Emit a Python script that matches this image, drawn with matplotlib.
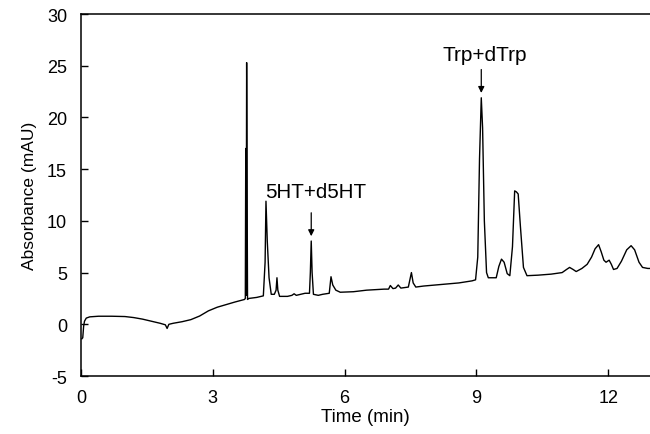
import matplotlib
matplotlib.use('Agg')
import matplotlib.pyplot as plt

plt.rcParams['font.family'] = ['Liberation Sans', 'DejaVu Sans']
plt.rcParams['axes.unicode_minus'] = False

# chromatogram trace (time in min, absorbance in mAU)
time = [0.02, 0.04, 0.06, 0.08, 0.12, 0.2, 0.4, 0.7, 1.0, 1.2, 1.4, 1.6, 1.8,
        1.92, 1.96, 2.0, 2.1, 2.3, 2.5, 2.7, 2.9, 3.1, 3.3, 3.5, 3.72, 3.74,
        3.75, 3.76, 3.77, 3.79, 3.82, 4.0, 4.15, 4.19, 4.21, 4.24, 4.28, 4.33,
        4.4, 4.44, 4.46, 4.48, 4.52, 4.7, 4.8, 4.85, 4.9, 5.0, 5.1, 5.2, 5.22,
        5.24, 5.26, 5.29, 5.4, 5.5, 5.65, 5.69, 5.73, 5.8, 5.9, 6.2, 6.5, 6.9,
        7.0, 7.04, 7.1, 7.16, 7.22, 7.28, 7.45, 7.52, 7.56, 7.62, 7.8, 8.2,
        8.6, 8.9, 8.98, 9.03, 9.07, 9.11, 9.14, 9.18, 9.23, 9.27, 9.45, 9.51,
        9.57, 9.63, 9.7, 9.76, 9.82, 9.87, 9.91, 9.95, 10.0, 10.07, 10.15,
        10.4, 10.7, 10.95, 11.05, 11.12, 11.2, 11.27, 11.4, 11.52, 11.62,
        11.7, 11.78, 11.84, 11.9, 11.95, 12.02, 12.07, 12.12, 12.2, 12.3,
        12.42, 12.52, 12.6, 12.7, 12.78, 12.9, 12.96]
absorb = [-1.4, -1.3, -0.2, 0.3, 0.6, 0.72, 0.78, 0.78, 0.75, 0.65, 0.5, 0.3,
          0.1, -0.05, -0.4, 0.0, 0.1, 0.25, 0.45, 0.8, 1.3, 1.65, 1.9, 2.15,
          2.4, 2.5, 17.0, 2.8, 25.3, 2.4, 2.5, 2.6, 2.75, 6.0, 11.9, 8.0, 4.5,
          2.9, 2.9, 3.3, 4.5, 3.3, 2.7, 2.7, 2.8, 2.95, 2.8, 2.9, 3.0, 3.0,
          5.0, 8.05, 5.0, 2.9, 2.8, 2.9, 3.0, 4.6, 3.8, 3.3, 3.1, 3.15, 3.3,
          3.4, 3.4, 3.75, 3.45, 3.5, 3.8, 3.5, 3.6, 5.0, 4.0, 3.6, 3.7, 3.85,
          4.0, 4.2, 4.3, 6.5, 16.0, 21.9, 19.0, 10.0, 5.0, 4.5, 4.5, 5.6, 6.3,
          6.0, 4.9, 4.7, 7.5, 12.9, 12.8, 12.6, 9.5, 5.5, 4.7, 4.75, 4.85, 5.0,
          5.3, 5.5, 5.3, 5.1, 5.4, 5.8, 6.5, 7.3, 7.7, 7.0, 6.2, 6.0, 6.2, 5.8,
          5.3, 5.4, 6.1, 7.2, 7.6, 7.2, 6.0, 5.5, 5.4, 5.4]

peak_labels = ['5HT+d5HT', 'Trp+dTrp']
peak_times = [5.24, 9.11]
peak_heights = [8.05, 21.9]

x_ticks = [0, 3, 6, 9, 12]
y_ticks = [-5, 0, 5, 10, 15, 20, 25, 30]

fig = plt.figure(figsize=(6.5, 4.35), dpi=100)
ax = fig.add_axes([0.1246, 0.1333, 0.8754, 0.8322])
fig.patch.set_facecolor('white')

ax.plot(time, absorb, color='black', lw=1.0)

ax.set_xlim(0, 12.95)
ax.set_ylim(-5, 30)
ax.set_xticks(x_ticks)
ax.set_yticks(y_ticks)
ax.tick_params(direction='in', length=5, width=1.0, labelsize=13,
               colors='black')
ax.tick_params(axis='x', pad=9)
ax.tick_params(axis='y', pad=10)
ax.spines['right'].set_visible(False)
for s in ['left', 'top', 'bottom']:
    ax.spines[s].set_linewidth(1.1)

ax.set_xlabel('Time (min)', fontsize=13.5, labelpad=2)
ax.set_ylabel('Absorbance (mAU)', fontsize=12.5, labelpad=7)

# peak annotations with arrows
text_pos = [(4.18, 12.3, 'left', 14.8), (9.2, 25.6, 'center', 15)]
for lab, t, h, (tx, ty, ha, fs) in zip(peak_labels, peak_times, peak_heights, text_pos):
    ax.annotate('', xy=(t, h + 0.2), xytext=(t, h + 3.0),
                arrowprops=dict(arrowstyle='-|>', color='black', lw=0.9,
                                mutation_scale=9))
    ax.text(tx, ty, lab, fontsize=fs, ha=ha, va='baseline')

plt.savefig('out.png', dpi=100, facecolor='white')
